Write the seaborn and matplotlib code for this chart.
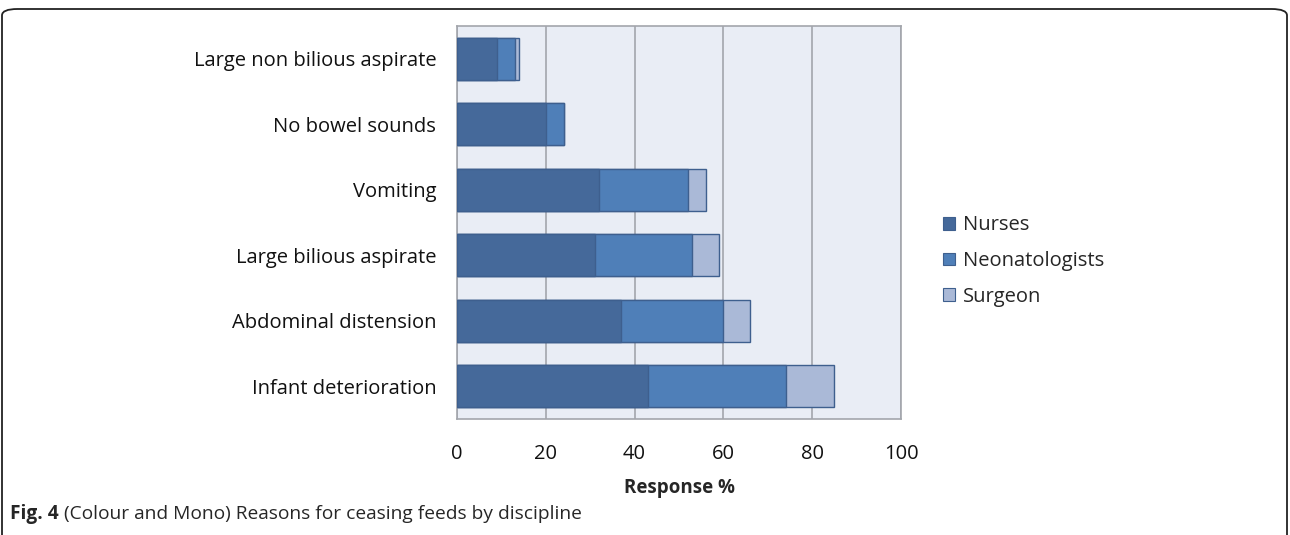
import numpy as np
import pandas as pd
import seaborn as sns
import matplotlib.pyplot as plt
from matplotlib.patches import FancyBboxPatch, Patch

# ==== Data (response %) ====
reasons = [
    "Large non bilious aspirate",
    "No bowel sounds",
    "Vomiting",
    "Large bilious aspirate",
    "Abdominal distension",
    "Infant deterioration",
]
nurses = [9, 20, 32, 31, 37, 43]
neonatologists = [4, 4, 20, 22, 23, 31]
surgeon = [1, 0, 4, 6, 6, 11]
disciplines = ["Nurses", "Neonatologists", "Surgeon"]
colors = ["#45699A", "#4F7FB8", "#AAB9D7"]
edge = "#3E5F8E"

df = pd.DataFrame({"reason": reasons, "Nurses": nurses,
                   "Neonatologists": neonatologists, "Surgeon": surgeon})
# cumulative totals so the stacked bars can be drawn back to front
df["c_nurses"] = df["Nurses"]
df["c_neo"] = df["Nurses"] + df["Neonatologists"]
df["c_surg"] = df["c_neo"] + df["Surgeon"]

sns.set_style("white")
plt.rcParams["font.family"] = ["Open Sans", "DejaVu Sans"]

fig = plt.figure(figsize=(12.9, 5.35), dpi=100)
ax = fig.add_axes([457 / 1290, 1 - 419 / 535, 444 / 1290, 393 / 535])
ax.set_facecolor("#E9EDF5")

for col, c in zip(["c_surg", "c_neo", "c_nurses"], colors[::-1]):
    sns.barplot(data=df, x=col, y="reason", order=reasons, color=c,
                width=0.64, edgecolor=edge, linewidth=1.0, saturation=1,
                ax=ax, zorder=3)

ax.set_xlim(0, 100)
ax.set_xticks([0, 20, 40, 60, 80, 100])
ax.grid(axis="x", color="#A3A6AC", linewidth=1.2, zorder=0)
ax.set_axisbelow(True)
for s in ax.spines.values():
    s.set_color("#A3A6AC")
    s.set_linewidth(1.2)
ax.tick_params(axis="both", length=0, labelsize=14.5, colors="#111111")
ax.tick_params(axis="x", pad=18)
ax.tick_params(axis="y", pad=15)
ax.set_ylabel("")
ax.set_xlabel("Response %", fontsize=13.5, fontweight="bold", labelpad=10)

handles = [Patch(facecolor=c, edgecolor=edge, linewidth=0.8) for c in colors]
fig.legend(handles, disciplines, loc="center left",
           bbox_to_anchor=(925 / 1290, 1 - 261 / 535), frameon=False,
           fontsize=14.5, handlelength=0.6, handleheight=0.6,
           handletextpad=0.4, labelspacing=0.78)

# rounded frame around the figure, open at the bottom
frame = FancyBboxPatch((2 / 1290, -0.2), 1285 / 1290, 1.2 - 9 / 535,
                       boxstyle="round,pad=0,rounding_size=0.012",
                       transform=fig.transFigure, fill=False,
                       edgecolor="#222222", linewidth=1.3)
fig.patches.append(frame)

cap_y = 1 - 514 / 535
t = fig.text(10 / 1290, cap_y, "Fig. 4", fontsize=13.8, fontweight="bold",
             va="center", ha="left")
fig.canvas.draw()
bb = t.get_window_extent(renderer=fig.canvas.get_renderer())
fig.text((bb.x1 + 5) / 1290, cap_y,
         "(Colour and Mono) Reasons for ceasing feeds by discipline",
         fontsize=13.8, va="center", ha="left")

fig.savefig("out.png", dpi=100)
